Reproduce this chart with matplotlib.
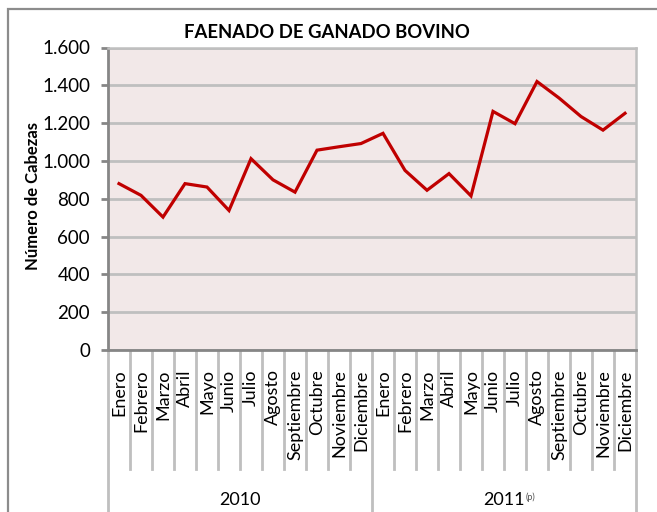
import matplotlib
matplotlib.use("Agg")
import matplotlib.pyplot as plt
from matplotlib.patches import Rectangle
import matplotlib.transforms as mtransforms

plt.rcParams['font.family'] = ['Lato', 'DejaVu Sans']

months = ["Enero", "Febrero", "Marzo", "Abril", "Mayo", "Junio", "Julio",
          "Agosto", "Septiembre", "Octubre", "Noviembre", "Diciembre"]
years = ["2010", "2011"]
values_2010 = [880, 818, 703, 880, 862, 738, 1012, 900, 835, 1057, 1075, 1092]
values_2011 = [1146, 950, 845, 933, 815, 1262, 1197, 1420, 1333, 1235, 1163, 1252]
yticks = [0, 200, 400, 600, 800, 1000, 1200, 1400, 1600]
ytick_labels = ["0", "200", "400", "600", "800", "1.000", "1.200", "1.400", "1.600"]

categories = months + months
values = values_2010 + values_2011
n = len(values)
xs = list(range(n))

W, H = 657, 512
fig = plt.figure(figsize=(W / 100, H / 100), dpi=100)
fig.patch.set_facecolor("white")

# outer chart frame
fig.patches.append(Rectangle((8 / W, -0.1), 1.2, 1.1 - 9 / H, transform=fig.transFigure,
                             fill=False, edgecolor="#8c8c8c", linewidth=1.6, zorder=0))

ax = fig.add_axes([108 / W, (H - 350) / H, 528 / W, 302.5 / H])
ax.set_facecolor("#f2e8e8")
ax.set_xlim(-0.5, n - 0.5)
ax.set_ylim(0, 1600)

for s in ["top", "right"]:
    ax.spines[s].set_visible(True)
    ax.spines[s].set_color("#bfbfbf")
    ax.spines[s].set_linewidth(1.8)
ax.spines["left"].set_color("#868686")
ax.spines["left"].set_linewidth(2)
ax.spines["bottom"].set_color("#868686")
ax.spines["bottom"].set_linewidth(2)

ax.set_yticks(yticks)
ax.set_yticklabels(ytick_labels, fontsize=13.5)
ax.tick_params(axis="y", length=5, width=2, color="#868686", pad=8)
ax.yaxis.grid(True, color="#bfbfbf", linewidth=2)
ax.set_axisbelow(True)

ax.set_xticks(xs)
ax.set_xticklabels(categories, rotation=90, fontsize=13)
ax.tick_params(axis="x", length=0, pad=14)

ax.plot(xs, values, color="#c00000", linewidth=2.3, solid_joinstyle="miter", zorder=3)

# category separators below axis
trans = mtransforms.blended_transform_factory(ax.transData, ax.transAxes)
for i in range(n + 1):
    xb = i - 0.5
    if i % 12 == 0:
        y_end = -0.7
    else:
        y_end = (350 - 469) / 302.5
    ax.plot([xb, xb], [0, y_end], transform=trans, color="#bfbfbf",
            linewidth=2, clip_on=False, zorder=1)

# year labels
ylab_y = (350 - 500) / 302.5
ax.text(5.5, ylab_y, years[0], transform=trans, ha="center", va="center", fontsize=13)
t2 = ax.text(17.5, ylab_y, years[1], transform=trans, ha="center", va="center", fontsize=13)
ax.annotate("(p)", xy=(1, 1), xycoords=t2, xytext=(0.5, 0), textcoords="offset points",
            ha="left", va="top", fontsize=6.5, color="#555555")

fig.text(327 / W, 1 - 33 / H, "FAENADO DE GANADO BOVINO", ha="center", va="center",
         fontsize=13.3, fontweight="bold")
fig.text(33 / W, 1 - 196 / H, "Número de Cabezas", rotation=90, ha="center", va="center",
         fontsize=12, fontweight="bold")

fig.savefig("out.png", dpi=100)
